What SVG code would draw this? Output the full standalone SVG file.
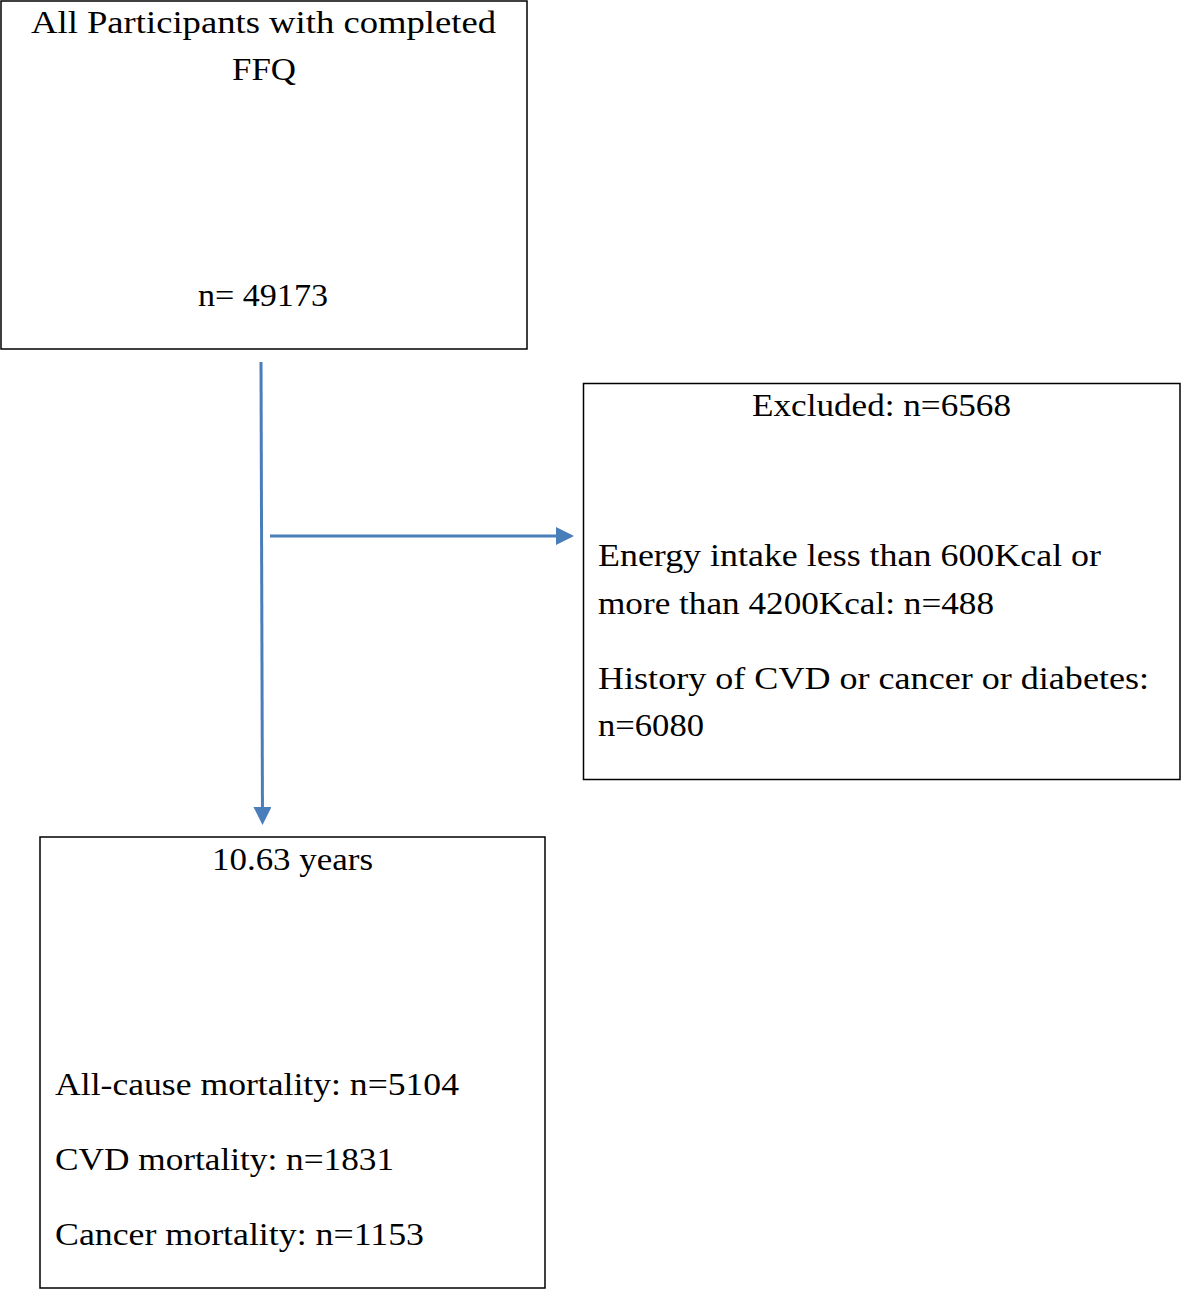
<svg xmlns="http://www.w3.org/2000/svg" width="1181" height="1290" viewBox="0 0 1181 1290">
<style>
.box{fill:#fff;stroke:#000;stroke-width:1.5}
.t{font-family:"Liberation Serif","DejaVu Serif",serif;font-size:32px;fill:#000}
.c{text-anchor:middle}
.ln{stroke:#4a7ebb;stroke-width:3;fill:none}
</style>
<defs>
<marker id="ah" markerWidth="6" markerHeight="6" refX="5" refY="3" orient="auto" markerUnits="strokeWidth">
<path d="M0,0 L6,3 L0,6 Z" fill="#4a7ebb"/>
</marker>
</defs>
<rect width="1181" height="1290" fill="#fff"/>
<g id="node-all">
<rect class="box" x="1" y="1" width="526" height="348"/>
<text class="t c" x="263.5" y="33" textLength="465" lengthAdjust="spacingAndGlyphs">All Participants with completed</text>
<text class="t c" x="264" y="80" textLength="64" lengthAdjust="spacingAndGlyphs">FFQ</text>
<text class="t c" x="263" y="306" textLength="130" lengthAdjust="spacingAndGlyphs">n= 49173</text>
</g>
<g id="node-excluded">
<rect class="box" x="583.5" y="383.5" width="596.5" height="396"/>
<text class="t c" x="881.5" y="416" textLength="259" lengthAdjust="spacingAndGlyphs">Excluded: n=6568</text>
<text class="t" x="598" y="566" textLength="503" lengthAdjust="spacingAndGlyphs">Energy intake less than 600Kcal or</text>
<text class="t" x="598" y="614" textLength="396" lengthAdjust="spacingAndGlyphs">more than 4200Kcal: n=488</text>
<text class="t" x="598" y="689" textLength="551" lengthAdjust="spacingAndGlyphs">History of CVD or cancer or diabetes:</text>
<text class="t" x="598" y="736" textLength="106" lengthAdjust="spacingAndGlyphs">n=6080</text>
</g>
<g id="node-followup">
<rect class="box" x="40" y="837" width="505" height="451"/>
<text class="t c" x="292.5" y="870" textLength="161" lengthAdjust="spacingAndGlyphs">10.63 years</text>
<text class="t" x="55" y="1095" textLength="404" lengthAdjust="spacingAndGlyphs">All-cause mortality: n=5104</text>
<text class="t" x="55" y="1170" textLength="339" lengthAdjust="spacingAndGlyphs">CVD mortality: n=1831</text>
<text class="t" x="55" y="1245" textLength="369" lengthAdjust="spacingAndGlyphs">Cancer mortality: n=1153</text>
</g>
<g id="connectors">
<line class="ln" x1="261" y1="362" x2="262.5" y2="822" marker-end="url(#ah)"/>
<line class="ln" x1="270" y1="536" x2="571" y2="536" marker-end="url(#ah)"/>
</g>
</svg>
